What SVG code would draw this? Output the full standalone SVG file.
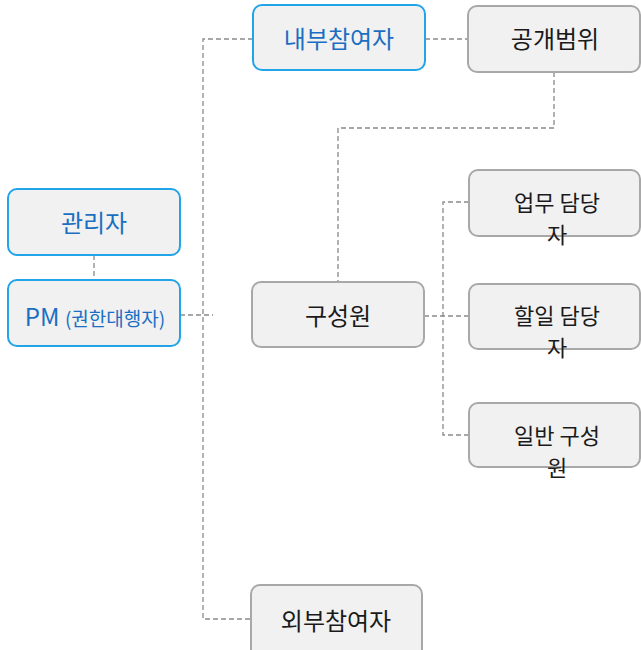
<svg xmlns="http://www.w3.org/2000/svg" width="641" height="650" viewBox="0 0 641 650">
<style>
.n{fill:#f1f1f1;stroke-width:2}
.b{stroke:#22a4e8}
.g{stroke:#a8a8a8}
.t{font-family:"Noto Sans CJK KR","Noto Sans",sans-serif;font-size:24px;text-anchor:middle}
.w{font-size:22px}
.tb{fill:#1a6fc2}
.tg{fill:#1a1a1a}
.c{fill:none;stroke:#8a8a8a;stroke-width:1.3;stroke-dasharray:5 3}
</style>
<rect width="641" height="650" fill="#ffffff"/>
<g id="connectors">
<path class="c" d="M94 255V280"/>
<path class="c" d="M180 315H213"/>
<path class="c" d="M253 39H203V619H251"/>
<path class="c" d="M425 39H468"/>
<path class="c" d="M554 72V128H338V282"/>
<path class="c" d="M424 316H469"/>
<path class="c" d="M469 202H443V435H469"/>
</g>
<g id="n-admin"><rect class="n b" x="8" y="189" width="172" height="66" rx="9"/><text class="t tb" x="94" y="232">관리자</text></g>
<g id="n-pm"><rect class="n b" x="8" y="280" width="172" height="66" rx="9"/><text class="t tb" x="95" y="326"><tspan>PM </tspan><tspan font-size="19">(권한대행자)</tspan></text></g>
<g id="n-internal"><rect class="n b" x="253" y="5" width="172" height="65" rx="9"/><text class="t tb" x="339" y="48">내부참여자</text></g>
<g id="n-scope"><rect class="n g" x="468" y="6" width="172" height="66" rx="9"/><text class="t tg" x="555" y="48">공개범위</text></g>
<g id="n-member"><rect class="n g" x="252" y="282" width="172" height="65" rx="9"/><text class="t tg" x="338" y="325">구성원</text></g>
<g id="n-task"><rect class="n g" x="469" y="170" width="171" height="66" rx="9"/><text class="t w tg" x="557" y="211">업무 담당<tspan x="557" dy="32">자</tspan></text></g>
<g id="n-todo"><rect class="n g" x="469" y="284" width="171" height="65" rx="9"/><text class="t w tg" x="557" y="324">할일 담당<tspan x="557" dy="32">자</tspan></text></g>
<g id="n-general"><rect class="n g" x="469" y="403" width="171" height="64" rx="9"/><text class="t w tg" x="557" y="444">일반 구성<tspan x="557" dy="32">원</tspan></text></g>
<g id="n-external"><rect class="n g" x="251" y="585" width="171" height="75" rx="9"/><text class="t tg" x="336" y="630">외부참여자</text></g>
</svg>
